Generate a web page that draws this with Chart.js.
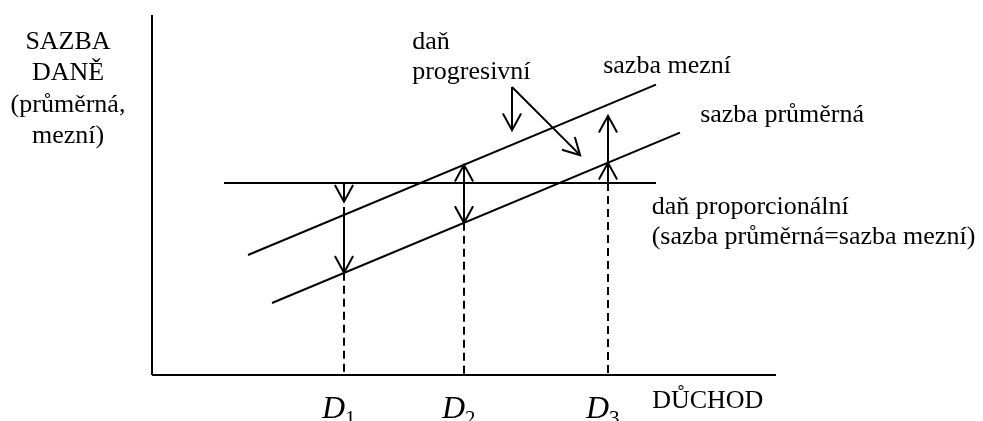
<html lang="cs">
<head>
    <meta charset="UTF-8">
    <title>Sazba daně a důchod</title>
    <script src="https://cdn.jsdelivr.net/npm/chart.js"></script>
    <style>
        body {
            margin: 0;
            background: #fff;
        }
        #chart-container {
            width: 983px;
            height: 421px;
        }
    </style>
</head>
<body>
    <div id="chart-container">
        <canvas id="taxChart"></canvas>
    </div>

    <script>
        // osy grafu (důchod, sazba)
        const incomeAxis = [[0, 0], [13, 0]];
        const rateAxis = [[0, 0], [0, 7.5]];

        // přímky sazeb
        const marginalRate = [[2, 2.5], [10.5, 6.05]];
        const averageRate = [[2.5, 1.5], [11, 5.05]];
        const proportionalRate = [[1.5, 4], [10.5, 4]];

        // úrovně důchodu D1..D3 a výška svislých čar
        const incomeLevels = [4, 6.5, 9.5];
        const incomeTicks = ['1', '2', '3'];
        const dropTops = [2.13, 3.17, 4];

        // svislé šipky mezi sazbami [x, od, do]
        const rateArrows = [
            [4, 4, 3.61],
            [4, 3.5, 2.13],
            [6.5, 4, 4.38],
            [6.5, 4, 3.17],
            [9.5, 4, 4.42],
            [9.5, 4.42, 5.4]
        ];

        // šipky od popisu "daň progresivní"
        const pointerStart = [7.5, 6.0];
        const pointerEnds = [[7.5, 5.1], [8.92, 4.58]];

        const FONT = '"Liberation Serif", "Times New Roman", serif';

        const labels = [
            { lines: ['SAZBA', 'DANĚ', '(průměrná,', 'mezní)'], x: -1.75, y: 6.8, align: 'center', lineHeight: 31.5 },
            { lines: ['daň', 'progresivní'], x: 5.42, y: 6.79, lineHeight: 30 },
            { lines: ['sazba mezní'], x: 9.4, y: 6.29 },
            { lines: ['sazba průměrná'], x: 11.42, y: 5.27 },
            { lines: ['daň proporcionální', '(sazba průměrná=sazba mezní)'], x: 10.41, y: 3.35, lineHeight: 30 },
            { lines: ['DŮCHOD'], x: 10.42, y: -0.69 }
        ];

        const toPoints = arr => arr.map(([x, y]) => ({ x, y }));

        function line(points, extra) {
            return Object.assign({
                data: toPoints(points),
                showLine: true,
                borderColor: '#000',
                borderWidth: 2,
                pointRadius: 0,
                fill: false
            }, extra || {});
        }

        const datasets = [
            line(incomeAxis),
            line(rateAxis),
            line(marginalRate),
            line(averageRate),
            line(proportionalRate),
            ...incomeLevels.map((v, i) => line([[v, dropTops[i]], [v, 0]], { borderDash: [8, 5] })),
            ...rateArrows.map(([x, a, b]) => line([[x, a], [x, b]], { arrow: true })),
            ...pointerEnds.map(end => line([pointerStart, end], { arrow: true }))
        ];

        // hroty šipek na konci datové řady
        const arrowPlugin = {
            id: 'arrowHeads',
            afterDatasetsDraw(chart) {
                const ctx = chart.ctx;
                ctx.save();
                ctx.strokeStyle = '#000';
                ctx.lineWidth = 2;
                chart.data.datasets.forEach((ds, i) => {
                    if (!ds.arrow) return;
                    const pts = chart.getDatasetMeta(i).data;
                    const p1 = pts[pts.length - 2], p2 = pts[pts.length - 1];
                    const a = Math.atan2(p2.y - p1.y, p2.x - p1.x);
                    const len = 19, spread = 0.5;
                    ctx.beginPath();
                    ctx.moveTo(p2.x - len * Math.cos(a - spread), p2.y - len * Math.sin(a - spread));
                    ctx.lineTo(p2.x, p2.y);
                    ctx.lineTo(p2.x - len * Math.cos(a + spread), p2.y - len * Math.sin(a + spread));
                    ctx.stroke();
                });
                ctx.restore();
            }
        };

        // popisky a označení D1..D3
        const labelPlugin = {
            id: 'textLabels',
            afterDatasetsDraw(chart) {
                const { ctx, scales: { x, y } } = chart;
                ctx.save();
                ctx.fillStyle = '#000';
                ctx.textBaseline = 'alphabetic';
                ctx.font = '26px ' + FONT;
                labels.forEach(l => {
                    ctx.textAlign = l.align || 'left';
                    l.lines.forEach((t, k) => {
                        ctx.fillText(t, x.getPixelForValue(l.x), y.getPixelForValue(l.y) + k * (l.lineHeight || 0));
                    });
                });
                incomeLevels.forEach((v, i) => {
                    const px = x.getPixelForValue(v);
                    const py = y.getPixelForValue(-0.9);
                    ctx.font = 'italic 32px ' + FONT;
                    ctx.textAlign = 'right';
                    ctx.fillText('D', px + 1, py);
                    ctx.font = '21px ' + FONT;
                    ctx.textAlign = 'left';
                    ctx.fillText(incomeTicks[i], px + 1, py + 7);
                });
                ctx.restore();
            }
        };

        const chart = new Chart(document.getElementById('taxChart'), {
            type: 'scatter',
            data: { datasets },
            options: {
                responsive: true,
                maintainAspectRatio: false,
                animation: false,
                layout: { padding: 0 },
                plugins: {
                    legend: { display: false },
                    tooltip: { enabled: false }
                },
                scales: {
                    x: { type: 'linear', display: false, min: -3.1667, max: 17.3125 },
                    y: { type: 'linear', display: false, min: -0.9583, max: 7.8125 }
                }
            },
            plugins: [arrowPlugin, labelPlugin]
        });
    </script>
</body>
</html>
